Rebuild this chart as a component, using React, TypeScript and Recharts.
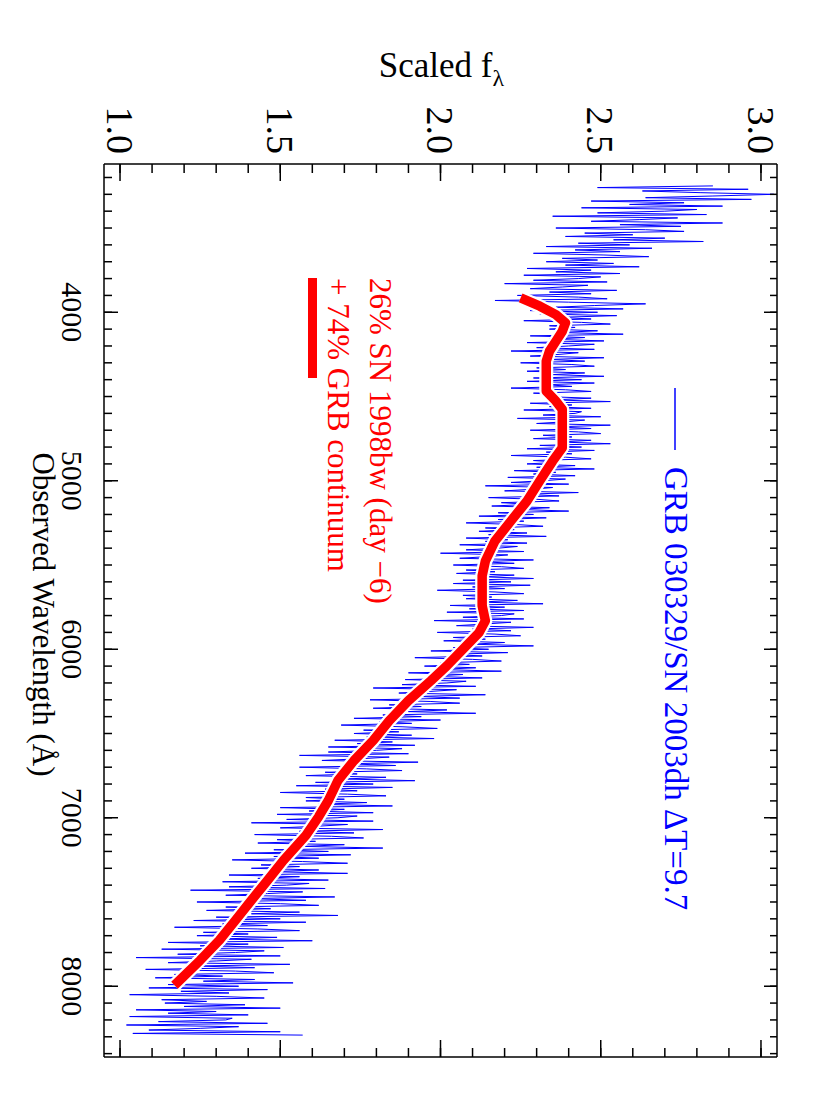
import { LineChart, Line, XAxis, YAxis, Label } from 'recharts';

// GRB 030329 / SN 2003dh spectrum, 10 A sampling
const blueWl = [
  3250, 3260, 3270, 3280, 3290,
  3300, 3310, 3320, 3330, 3340, 3350, 3360, 3370, 3380, 3390,
  3400, 3410, 3420, 3430, 3440, 3450, 3460, 3470, 3480, 3490,
  3500, 3510, 3520, 3530, 3540, 3550, 3560, 3570, 3580, 3590,
  3600, 3610, 3620, 3630, 3640, 3650, 3660, 3670, 3680, 3690,
  3700, 3710, 3720, 3730, 3740, 3750, 3760, 3770, 3780, 3790,
  3800, 3810, 3820, 3830, 3840, 3850, 3860, 3870, 3880, 3890,
  3900, 3910, 3920, 3930, 3940, 3950, 3960, 3970, 3980, 3990,
  4000, 4010, 4020, 4030, 4040, 4050, 4060, 4070, 4080, 4090,
  4100, 4110, 4120, 4130, 4140, 4150, 4160, 4170, 4180, 4190,
  4200, 4210, 4220, 4230, 4240, 4250, 4260, 4270, 4280, 4290,
  4300, 4310, 4320, 4330, 4340, 4350, 4360, 4370, 4380, 4390,
  4400, 4410, 4420, 4430, 4440, 4450, 4460, 4470, 4480, 4490,
  4500, 4510, 4520, 4530, 4540, 4550, 4560, 4570, 4580, 4590,
  4600, 4610, 4620, 4630, 4640, 4650, 4660, 4670, 4680, 4690,
  4700, 4710, 4720, 4730, 4740, 4750, 4760, 4770, 4780, 4790,
  4800, 4810, 4820, 4830, 4840, 4850, 4860, 4870, 4880, 4890,
  4900, 4910, 4920, 4930, 4940, 4950, 4960, 4970, 4980, 4990,
  5000, 5010, 5020, 5030, 5040, 5050, 5060, 5070, 5080, 5090,
  5100, 5110, 5120, 5130, 5140, 5150, 5160, 5170, 5180, 5190,
  5200, 5210, 5220, 5230, 5240, 5250, 5260, 5270, 5280, 5290,
  5300, 5310, 5320, 5330, 5340, 5350, 5360, 5370, 5380, 5390,
  5400, 5410, 5420, 5430, 5440, 5450, 5460, 5470, 5480, 5490,
  5500, 5510, 5520, 5530, 5540, 5550, 5560, 5570, 5580, 5590,
  5600, 5610, 5620, 5630, 5640, 5650, 5660, 5670, 5680, 5690,
  5700, 5710, 5720, 5730, 5740, 5750, 5760, 5770, 5780, 5790,
  5800, 5810, 5820, 5830, 5840, 5850, 5860, 5870, 5880, 5890,
  5900, 5910, 5920, 5930, 5940, 5950, 5960, 5970, 5980, 5990,
  6000, 6010, 6020, 6030, 6040, 6050, 6060, 6070, 6080, 6090,
  6100, 6110, 6120, 6130, 6140, 6150, 6160, 6170, 6180, 6190,
  6200, 6210, 6220, 6230, 6240, 6250, 6260, 6270, 6280, 6290,
  6300, 6310, 6320, 6330, 6340, 6350, 6360, 6370, 6380, 6390,
  6400, 6410, 6420, 6430, 6440, 6450, 6460, 6470, 6480, 6490,
  6500, 6510, 6520, 6530, 6540, 6550, 6560, 6570, 6580, 6590,
  6600, 6610, 6620, 6630, 6640, 6650, 6660, 6670, 6680, 6690,
  6700, 6710, 6720, 6730, 6740, 6750, 6760, 6770, 6780, 6790,
  6800, 6810, 6820, 6830, 6840, 6850, 6860, 6870, 6880, 6890,
  6900, 6910, 6920, 6930, 6940, 6950, 6960, 6970, 6980, 6990,
  7000, 7010, 7020, 7030, 7040, 7050, 7060, 7070, 7080, 7090,
  7100, 7110, 7120, 7130, 7140, 7150, 7160, 7170, 7180, 7190,
  7200, 7210, 7220, 7230, 7240, 7250, 7260, 7270, 7280, 7290,
  7300, 7310, 7320, 7330, 7340, 7350, 7360, 7370, 7380, 7390,
  7400, 7410, 7420, 7430, 7440, 7450, 7460, 7470, 7480, 7490,
  7500, 7510, 7520, 7530, 7540, 7550, 7560, 7570, 7580, 7590,
  7600, 7610, 7620, 7630, 7640, 7650, 7660, 7670, 7680, 7690,
  7700, 7710, 7720, 7730, 7740, 7750, 7760, 7770, 7780, 7790,
  7800, 7810, 7820, 7830, 7840, 7850, 7860, 7870, 7880, 7890,
  7900, 7910, 7920, 7930, 7940, 7950, 7960, 7970, 7980, 7990,
  8000, 8010, 8020, 8030, 8040, 8050, 8060, 8070, 8080, 8090,
  8100, 8110, 8120, 8130, 8140, 8150, 8160, 8170, 8180, 8190,
  8200, 8210, 8220, 8230, 8240, 8250, 8260, 8270, 8280, 8290,
];

const blueFlux = [
  2.85, 2.49, 2.96, 2.63, 2.81,
  3.04, 2.85, 2.64, 2.97, 2.47, 2.76, 2.59, 2.88, 2.44, 2.80,
  2.70, 2.49, 2.83, 2.35, 2.74, 2.62, 2.47, 2.88, 2.56, 2.75,
  2.36, 2.64, 2.76, 2.45, 2.60, 2.39, 2.70, 2.54, 2.82, 2.43,
  2.59, 2.33, 2.66, 2.42, 2.56, 2.29, 2.51, 2.65, 2.38, 2.49,
  2.33, 2.54, 2.39, 2.62, 2.27, 2.47, 2.36, 2.56, 2.26, 2.50,
  2.43, 2.29, 2.52, 2.20, 2.46, 2.38, 2.28, 2.55, 2.34, 2.47,
  2.24, 2.43, 2.52, 2.17, 2.40, 2.64, 2.48, 2.36, 2.57, 2.28,
  2.49, 2.31, 2.55, 2.37, 2.47, 2.26, 2.44, 2.53, 2.34, 2.42,
  2.34, 2.49, 2.37, 2.57, 2.28, 2.45, 2.34, 2.51, 2.27, 2.48,
  2.40, 2.30, 2.48, 2.22, 2.43, 2.37, 2.28, 2.51, 2.34, 2.45,
  2.25, 2.41, 2.48, 2.30, 2.39, 2.27, 2.45, 2.35, 2.51, 2.29,
  2.44, 2.27, 2.48, 2.33, 2.41, 2.22, 2.39, 2.47, 2.29, 2.37,
  2.32, 2.47, 2.35, 2.53, 2.28, 2.41, 2.34, 2.47, 2.26, 2.44,
  2.42, 2.32, 2.50, 2.24, 2.45, 2.39, 2.30, 2.53, 2.36, 2.47,
  2.28, 2.43, 2.50, 2.32, 2.41, 2.29, 2.47, 2.37, 2.53, 2.31,
  2.44, 2.27, 2.48, 2.33, 2.41, 2.22, 2.39, 2.47, 2.29, 2.37,
  2.27, 2.42, 2.30, 2.48, 2.23, 2.36, 2.29, 2.42, 2.21, 2.39,
  2.32, 2.22, 2.40, 2.14, 2.35, 2.29, 2.20, 2.43, 2.26, 2.37,
  2.15, 2.30, 2.37, 2.19, 2.28, 2.16, 2.34, 2.24, 2.40, 2.18,
  2.29, 2.12, 2.33, 2.18, 2.26, 2.08, 2.24, 2.32, 2.14, 2.23,
  2.12, 2.27, 2.15, 2.33, 2.08, 2.21, 2.14, 2.27, 2.06, 2.24,
  2.18, 2.08, 2.26, 2.00, 2.21, 2.15, 2.06, 2.29, 2.12, 2.23,
  2.04, 2.19, 2.26, 2.08, 2.17, 2.05, 2.23, 2.13, 2.29, 2.07,
  2.22, 2.04, 2.28, 2.10, 2.20, 1.99, 2.17, 2.26, 2.07, 2.16,
  2.08, 2.24, 2.12, 2.32, 2.03, 2.20, 2.09, 2.26, 2.02, 2.23,
  2.19, 2.07, 2.26, 1.98, 2.22, 2.14, 2.05, 2.29, 2.10, 2.22,
  1.99, 2.17, 2.25, 2.04, 2.14, 2.01, 2.20, 2.10, 2.29, 2.04,
  2.15, 1.97, 2.21, 2.03, 2.13, 1.92, 2.10, 2.19, 2.00, 2.09,
  1.95, 2.11, 1.99, 2.19, 1.90, 2.07, 1.96, 2.13, 1.89, 2.08,
  2.02, 1.88, 2.11, 1.79, 2.05, 1.97, 1.87, 2.14, 1.93, 2.06,
  1.78, 1.97, 2.06, 1.84, 1.94, 1.79, 2.02, 1.90, 2.11, 1.82,
  1.94, 1.73, 2.00, 1.81, 1.91, 1.69, 1.88, 1.99, 1.76, 1.87,
  1.73, 1.91, 1.77, 1.98, 1.67, 1.85, 1.74, 1.92, 1.65, 1.88,
  1.80, 1.65, 1.90, 1.56, 1.84, 1.75, 1.63, 1.93, 1.71, 1.86,
  1.56, 1.77, 1.88, 1.64, 1.74, 1.58, 1.83, 1.70, 1.92, 1.61,
  1.79, 1.55, 1.85, 1.64, 1.74, 1.50, 1.71, 1.83, 1.58, 1.70,
  1.58, 1.77, 1.62, 1.85, 1.50, 1.70, 1.59, 1.79, 1.49, 1.74,
  1.68, 1.52, 1.79, 1.41, 1.71, 1.62, 1.50, 1.82, 1.56, 1.73,
  1.42, 1.66, 1.76, 1.49, 1.61, 1.43, 1.70, 1.57, 1.82, 1.48,
  1.65, 1.39, 1.72, 1.48, 1.62, 1.35, 1.57, 1.71, 1.44, 1.56,
  1.41, 1.62, 1.47, 1.71, 1.34, 1.56, 1.43, 1.65, 1.32, 1.59,
  1.52, 1.34, 1.64, 1.22, 1.57, 1.46, 1.33, 1.67, 1.40, 1.58,
  1.24, 1.50, 1.62, 1.33, 1.47, 1.27, 1.56, 1.41, 1.68, 1.30,
  1.50, 1.23, 1.58, 1.32, 1.46, 1.17, 1.43, 1.56, 1.26, 1.40,
  1.24, 1.49, 1.30, 1.60, 1.15, 1.40, 1.25, 1.51, 1.13, 1.45,
  1.36, 1.18, 1.50, 1.05, 1.41, 1.30, 1.15, 1.53, 1.24, 1.42,
  1.08, 1.36, 1.48, 1.17, 1.32, 1.11, 1.42, 1.26, 1.54, 1.15,
  1.37, 1.09, 1.46, 1.19, 1.34, 1.03, 1.30, 1.45, 1.13, 1.27,
  1.14, 1.39, 1.20, 1.50, 1.05, 1.30, 1.15, 1.40, 1.03, 1.35,
  1.33, 1.12, 1.46, 1.02, 1.37, 1.25, 1.09, 1.50, 1.04, 1.57,
];

// 26% SN 1998bw (day -6) + 74% GRB continuum model
const redWl = [
  3915, 3964, 4014, 4063, 4113, 4172, 4231, 4290, 4340, 4409, 4468, 4527,
  4577, 4646, 4725, 4804, 4883, 5000, 5120, 5238, 5357, 5476, 5564, 5653,
  5742, 5831, 5902, 6000, 6098, 6187, 6305, 6424, 6542, 6661, 6779, 6898,
  6993, 7105, 7253, 7372, 7490, 7609, 7727, 7846, 7994,
];
const redFlux = [
  2.25, 2.31, 2.36, 2.39, 2.38, 2.36, 2.34, 2.33, 2.33, 2.33, 2.33, 2.36,
  2.38, 2.38, 2.38, 2.38, 2.35, 2.31, 2.27, 2.22, 2.17, 2.14, 2.13, 2.13,
  2.13, 2.14, 2.12, 2.07, 2.02, 1.97, 1.90, 1.84, 1.79, 1.73, 1.68, 1.65,
  1.62, 1.58, 1.51, 1.46, 1.41, 1.36, 1.31, 1.25, 1.17,
];

const wlMajor = [4000, 5000, 6000, 7000, 8000];
const wlMinor = [
  3200, 3300, 3400, 3500, 3600, 3700, 3800, 3900, 4000, 4100, 4200, 4300,
  4400, 4500, 4600, 4700, 4800, 4900, 5000, 5100, 5200, 5300, 5400, 5500,
  5600, 5700, 5800, 5900, 6000, 6100, 6200, 6300, 6400, 6500, 6600, 6700,
  6800, 6900, 7000, 7100, 7200, 7300, 7400, 7500, 7600, 7700, 7800, 7900,
  8000, 8100, 8200, 8300, 8400,
];
const fluxMajor = [1.0, 1.5, 2.0, 2.5, 3.0];
const fluxMinor = [
  1.0, 1.1, 1.2, 1.3, 1.4, 1.5, 1.6, 1.7, 1.8, 1.9, 2.0, 2.1, 2.2, 2.3, 2.4,
  2.5, 2.6, 2.7, 2.8, 2.9, 3.0,
];

const spectrum = blueWl.map((wl, i) => ({ wl, flux: blueFlux[i] }));
const model = redWl.map((wl, i) => ({ wl, flux: redFlux[i] }));

const SERIF = "'Liberation Serif', 'Times New Roman', serif";
const WL_DOMAIN = [3120, 8420];
const FLUX_DOMAIN = [0.95, 3.05];

const frame = { stroke: '#000', strokeWidth: 1.5 };
const THIN = 0.01; // mirror axes must have a size > 0 to be drawn
const noLabel = () => <g />; // keep the inward tick marks, drop their labels

export default function App() {
  return (
    <div style={{ position: 'absolute', left: 0, top: 0, width: 830, height: 1107, overflow: 'hidden', background: '#fff' }}>
      {/* plot is drawn landscape and turned a quarter clockwise, like the original */}
      <div
        style={{
          position: 'absolute',
          left: 0,
          top: 0,
          width: 1107,
          height: 830,
          transformOrigin: '0 0',
          transform: 'translateX(830px) rotate(90deg)',
        }}
      >
        <LineChart width={1107} height={830} margin={{ top: 53, right: 50, bottom: 34, left: 100 }}>
          <XAxis
            xAxisId="wl"
            type="number"
            dataKey="wl"
            domain={WL_DOMAIN}
            allowDataOverflow
            ticks={wlMajor}
            interval={0}
            height={70}
            tickLine={false}
            axisLine={false}
            tickSize={0}
            tickMargin={21}
            tick={{ fill: '#000', fontSize: 30, fontFamily: SERIF }}
          >
            <Label
              content={({ viewBox }: any) => (
                <text
                  x={viewBox.x + viewBox.width / 2 + 4}
                  y={viewBox.y + 71}
                  textAnchor="middle"
                  fill="#000"
                  fontSize={31}
                  fontFamily={SERIF}
                >
                  Observed Wavelength (Å)
                </text>
              )}
            />
          </XAxis>
          <XAxis xAxisId="wlBotMaj" type="number" dataKey="wl" domain={WL_DOMAIN} allowDataOverflow ticks={wlMajor} interval={0} orientation="bottom" mirror height={THIN} tick={noLabel} tickSize={14} tickLine={frame} axisLine={frame} />
          <XAxis xAxisId="wlBotMin" type="number" dataKey="wl" domain={WL_DOMAIN} allowDataOverflow ticks={wlMinor} interval={0} orientation="bottom" mirror height={THIN} tick={noLabel} tickSize={8} tickLine={frame} axisLine={false} />
          <XAxis xAxisId="wlTopMaj" type="number" dataKey="wl" domain={WL_DOMAIN} allowDataOverflow ticks={wlMajor} interval={0} orientation="top" mirror height={THIN} tick={noLabel} tickSize={13} tickLine={frame} axisLine={frame} />
          <XAxis xAxisId="wlTopMin" type="number" dataKey="wl" domain={WL_DOMAIN} allowDataOverflow ticks={wlMinor} interval={0} orientation="top" mirror height={THIN} tick={noLabel} tickSize={7} tickLine={frame} axisLine={false} />

          <YAxis
            yAxisId="flux"
            type="number"
            domain={FLUX_DOMAIN}
            allowDataOverflow
            ticks={fluxMajor}
            interval={0}
            width={64}
            tickLine={false}
            axisLine={false}
            tickSize={0}
            tickMargin={10}
            tickFormatter={(v: number) => v.toFixed(1)}
            tick={{ fill: '#000', fontSize: 38, fontFamily: SERIF }}
          >
            <Label
              content={({ viewBox }: any) => {
                const cx = viewBox.x - 23;
                const cy = viewBox.y + viewBox.height / 2 - 1;
                return (
                  <text
                    x={cx}
                    y={cy}
                    transform={`rotate(-90, ${cx}, ${cy})`}
                    textAnchor="middle"
                    fill="#000"
                    fontSize={35}
                    fontFamily={SERIF}
                  >
                    Scaled f<tspan fontSize={24} dy={9}>λ</tspan>
                  </text>
                );
              }}
            />
          </YAxis>
          <YAxis yAxisId="fluxLeftMaj" type="number" domain={FLUX_DOMAIN} allowDataOverflow ticks={fluxMajor} interval={0} orientation="left" mirror width={THIN} tick={noLabel} tickSize={17} tickLine={frame} axisLine={frame} />
          <YAxis yAxisId="fluxLeftMin" type="number" domain={FLUX_DOMAIN} allowDataOverflow ticks={fluxMinor} interval={0} orientation="left" mirror width={THIN} tick={noLabel} tickSize={9} tickLine={frame} axisLine={false} />
          <YAxis yAxisId="fluxRightMaj" type="number" domain={FLUX_DOMAIN} allowDataOverflow ticks={fluxMajor} interval={0} orientation="right" mirror width={THIN} tick={noLabel} tickSize={17} tickLine={frame} axisLine={frame} />
          <YAxis yAxisId="fluxRightMin" type="number" domain={FLUX_DOMAIN} allowDataOverflow ticks={fluxMinor} interval={0} orientation="right" mirror width={THIN} tick={noLabel} tickSize={9} tickLine={frame} axisLine={false} />

          <Line
            xAxisId="wl"
            yAxisId="flux"
            data={spectrum}
            dataKey="flux"
            type="linear"
            stroke="#0000ff"
            strokeWidth={1}
            dot={false}
            isAnimationActive={false}
          />
          <Line
            xAxisId="wl"
            yAxisId="flux"
            data={model}
            dataKey="flux"
            type="linear"
            stroke="#fff"
            strokeWidth={14}
            strokeLinejoin="round"
            dot={false}
            legendType="none"
            isAnimationActive={false}
          />
          <Line
            xAxisId="wl"
            yAxisId="flux"
            data={model}
            dataKey="flux"
            type="linear"
            stroke="#ff0000"
            strokeWidth={9.5}
            strokeLinejoin="round"
            dot={false}
            isAnimationActive={false}
          />
        </LineChart>

        {/* legend */}
        <svg width={1107} height={830} style={{ position: 'absolute', left: 0, top: 0, pointerEvents: 'none' }}>
          <line x1={388} x2={450} y1={155} y2={155} stroke="#0000ff" strokeWidth={1.5} />
          <text x={467} y={165} fill="#0000ff" fontSize={33} fontFamily={SERIF}>
            GRB 030329/SN 2003dh ΔT=9.7
          </text>
          <text x={278} y={460} fill="#ff0000" fontSize={31} fontFamily={SERIF}>
            26% SN 1998bw (day −6)
          </text>
          <text x={278} y={502} fill="#ff0000" fontSize={31} fontFamily={SERIF}>
            + 74% GRB continuum
          </text>
          <line x1={278} x2={378} y1={517.5} y2={517.5} stroke="#ff0000" strokeWidth={9} />
        </svg>
      </div>
    </div>
  );
}
